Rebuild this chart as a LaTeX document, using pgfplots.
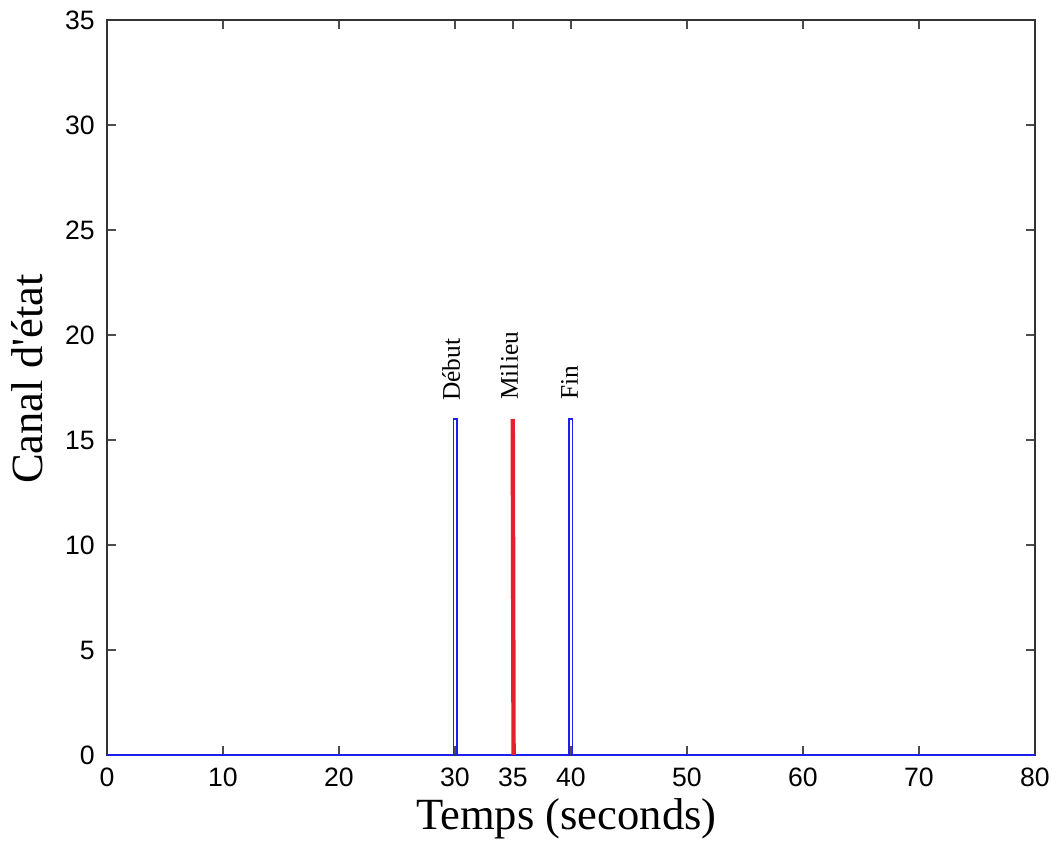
\documentclass[border=0pt]{standalone}
\usepackage{fontspec}
\setmainfont{Liberation Serif}
\newfontfamily\arialf{Liberation Sans}
\usepackage{pgfplots}
\pgfplotsset{compat=1.18}
\definecolor{mblue}{RGB}{30,30,240}
\definecolor{mred}{RGB}{230,30,45}
\begin{document}
\begin{tikzpicture}
\useasboundingbox (-53.5pt,-45pt) rectangle (476pt,377.5pt);
\begin{axis}[
  at={(0,0)}, anchor=south west,
  scale only axis, width=464pt, height=367.5pt,
  xmin=0, xmax=80, ymin=0, ymax=35,
  xtick={0,10,20,30,35,40,50,60,70,80},
  ytick={0,5,10,15,20,25,30,35},
  tick align=inside, major tick length=4.5pt,
  tick style={color=black!70, line width=0.6pt},
  axis line style={color=black!80, line width=0.9pt},
  clip=false,
  /pgf/number format/assume math mode=true,
  ticklabel style={font=\arialf\fontsize{13.3}{14}\selectfont},
  xticklabel style={anchor=base, inner sep=0pt, yshift=-16pt},
  yticklabel style={anchor=east, inner sep=0pt, xshift=-6pt},
  xlabel={Temps (seconds)},
  ylabel={Canal d\textquotesingle état},
  label style={font=\fontsize{22.3}{24}\selectfont},
  xlabel style={at={(axis description cs:0.495,-0.1007)}, anchor=base, inner sep=0pt},
  ylabel style={at={(axis description cs:-0.070,0.5116)}, anchor=base, rotate=0, inner sep=0pt},
]
\addplot[mblue, line width=0.85pt] coordinates {(0,0) (29.87,0) (29.87,16) (30.15,16) (30.15,0) (39.85,0) (39.85,16) (40.13,16) (40.13,0) (80,0)};
\addplot[mred, line width=2.2pt] coordinates {(35.05,0) (34.98,16)};
\node[rotate=90, anchor=base west, inner sep=0pt, font=\fontsize{12.7}{13}\selectfont] at (axis cs:30.43,16.85) {Début};
\node[rotate=90, anchor=base west, inner sep=0pt, font=\fontsize{12.7}{13}\selectfont] at (axis cs:35.43,16.9) {Milieu};
\node[rotate=90, anchor=base west, inner sep=0pt, font=\fontsize{12.7}{13}\selectfont] at (axis cs:40.6,16.9) {Fin};
\end{axis}
\end{tikzpicture}
\end{document}
